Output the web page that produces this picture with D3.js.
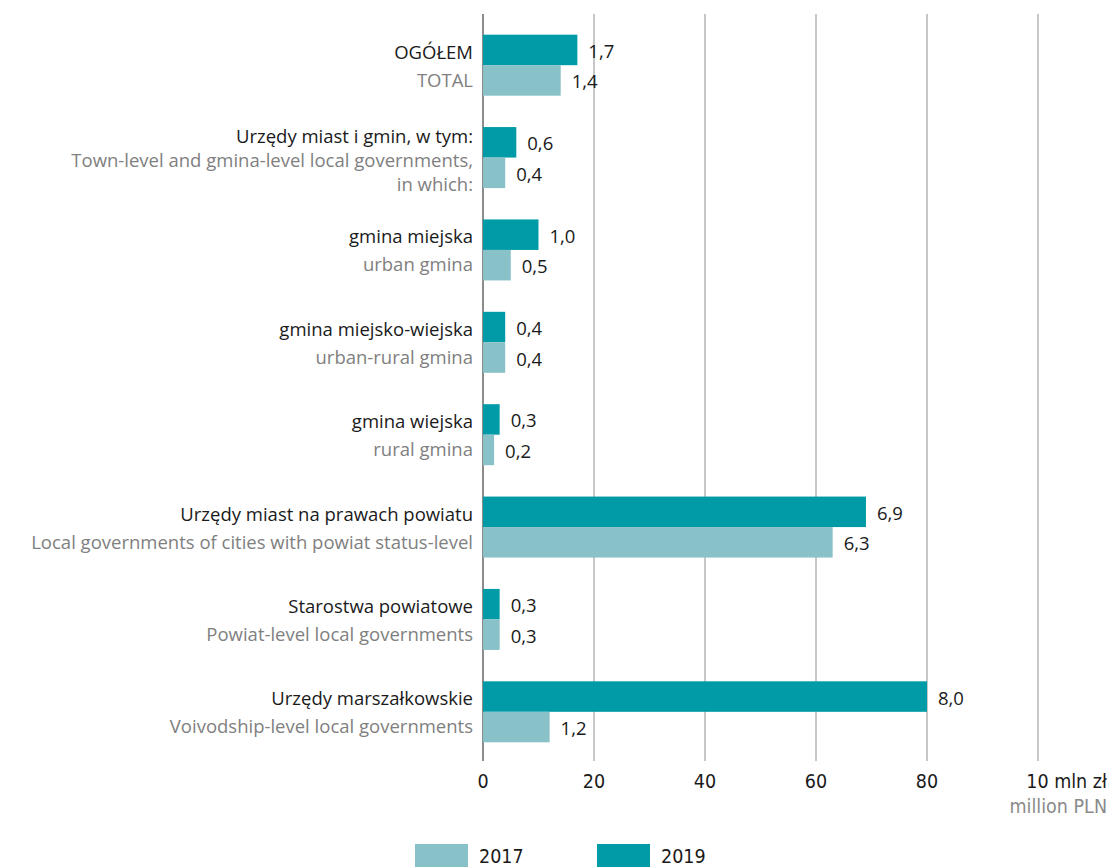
<!DOCTYPE html>
<html>
<head>
<meta charset="utf-8">
<script src="https://cdn.jsdelivr.net/npm/d3@7"></script>
<style>
  body { margin: 0; background: #fff; }
  svg { display: block; }
  .cat { font-family: "Open Sans", "Noto Sans", sans-serif; }
  .num { font-family: "Liberation Sans Narrow", "DejaVu Sans Condensed", sans-serif; }
</style>
</head>
<body>
<div id="chart"></div>
<script>
// categories: polish label + english lines
const categoriesPl = [
  "OGÓŁEM",
  "Urzędy miast i gmin, w tym:",
  "gmina miejska",
  "gmina miejsko-wiejska",
  "gmina wiejska",
  "Urzędy miast na prawach powiatu",
  "Starostwa powiatowe",
  "Urzędy marszałkowskie"
];
const categoriesEn = [
  ["TOTAL"],
  ["Town-level and gmina-level local governments,", "in which:"],
  ["urban gmina"],
  ["urban-rural gmina"],
  ["rural gmina"],
  ["Local governments of cities with powiat status-level"],
  ["Powiat-level local governments"],
  ["Voivodship-level local governments"]
];
const values2019 = [1.7, 0.6, 1.0, 0.4, 0.3, 6.9, 0.3, 8.0];
const values2017 = [1.4, 0.4, 0.5, 0.4, 0.2, 6.3, 0.3, 1.2];
const tickValues = [0, 2, 4, 6, 8, 10];
const tickLabels = ["0", "20", "40", "60", "80", "10 mln zł"];
const seriesNames = ["2019", "2017"];
const colors = { "2019": "#009ba7", "2017": "#88c1c7" };

const width = 1109, height = 867;

const svg = d3.select("#chart").append("svg")
  .attr("width", width)
  .attr("height", height);

const x = d3.scaleLinear().domain([0, 10]).range([483, 1038]);
const y = d3.scaleBand().domain(d3.range(categoriesPl.length)).range([19, 758]);
const ySub = d3.scaleBand().domain(seriesNames).range([-30.5, 30.5]);

const fmt = v => d3.format(".1f")(v).replace(".", ",");

// gridlines
svg.append("g")
  .selectAll("line")
  .data(tickValues)
  .join("line")
  .attr("x1", d => x(d)).attr("x2", d => x(d))
  .attr("y1", 14).attr("y2", 761)
  .attr("stroke", d => d === 0 ? "#8c8c8c" : "#b5b5b5")
  .attr("stroke-width", d => d === 0 ? 2 : 1.5);

// tick labels
const ticks = svg.append("g").attr("class", "num");
ticks.selectAll("text")
  .data(tickValues)
  .join("text")
  .attr("x", (d, i) => i === tickValues.length - 1 ? 1107 : x(d))
  .attr("y", 788)
  .attr("text-anchor", (d, i) => i === tickValues.length - 1 ? "end" : "middle")
  .attr("font-size", 19.5)
  .attr("fill", "#1a1a1a")
  .text((d, i) => tickLabels[i]);
ticks.append("text")
  .attr("x", 1107).attr("y", 813)
  .attr("text-anchor", "end")
  .attr("font-size", 19.5)
  .attr("fill", "#8a8a8a")
  .text("million PLN");

// bars
const rows = categoriesPl.map((c, i) => ({
  i,
  series: [
    { key: "2019", value: values2019[i] },
    { key: "2017", value: values2017[i] }
  ]
}));

const group = svg.append("g")
  .selectAll("g")
  .data(rows)
  .join("g")
  .attr("transform", d => `translate(0,${y(d.i) + y.bandwidth() / 2})`);

group.selectAll("rect")
  .data(d => d.series)
  .join("rect")
  .attr("x", x(0))
  .attr("y", d => ySub(d.key))
  .attr("width", d => x(d.value) - x(0))
  .attr("height", ySub.bandwidth())
  .attr("fill", d => colors[d.key]);

group.selectAll("text.val")
  .data(d => d.series)
  .join("text")
  .attr("class", "val cat")
  .attr("x", d => x(d.value) + 11)
  .attr("y", d => ySub(d.key) + ySub.bandwidth() / 2 + 8)
  .attr("font-size", 18.5)
  .attr("fill", "#1a1a1a")
  .text(d => fmt(d.value));

// category labels
group.each(function(d) {
  const g = d3.select(this);
  const en = categoriesEn[d.i];
  const multi = en.length > 1;
  const t = g.append("text")
    .attr("class", "cat")
    .attr("text-anchor", "end")
    .attr("font-size", 18.5);
  t.append("tspan")
    .attr("x", 473)
    .attr("y", multi ? -15 : -6.5)
    .attr("fill", "#1a1a1a")
    .text(categoriesPl[d.i]);
  en.forEach((line, k) => {
    t.append("tspan")
      .attr("x", 473)
      .attr("y", (multi ? 9 : 21.5) + k * 24)
      .attr("fill", "#808080")
      .text(line);
  });
});

// legend
const legend = svg.append("g").attr("class", "num")
  .selectAll("g")
  .data(["2017", "2019"])
  .join("g")
  .attr("transform", (d, i) => `translate(${415 + i * 182},844)`);
legend.append("rect")
  .attr("width", 53).attr("height", 24)
  .attr("fill", d => colors[d]);
legend.append("text")
  .attr("x", 64).attr("y", 19)
  .attr("font-size", 19.5)
  .attr("fill", "#1a1a1a")
  .text(d => d);
</script>
</body>
</html>
